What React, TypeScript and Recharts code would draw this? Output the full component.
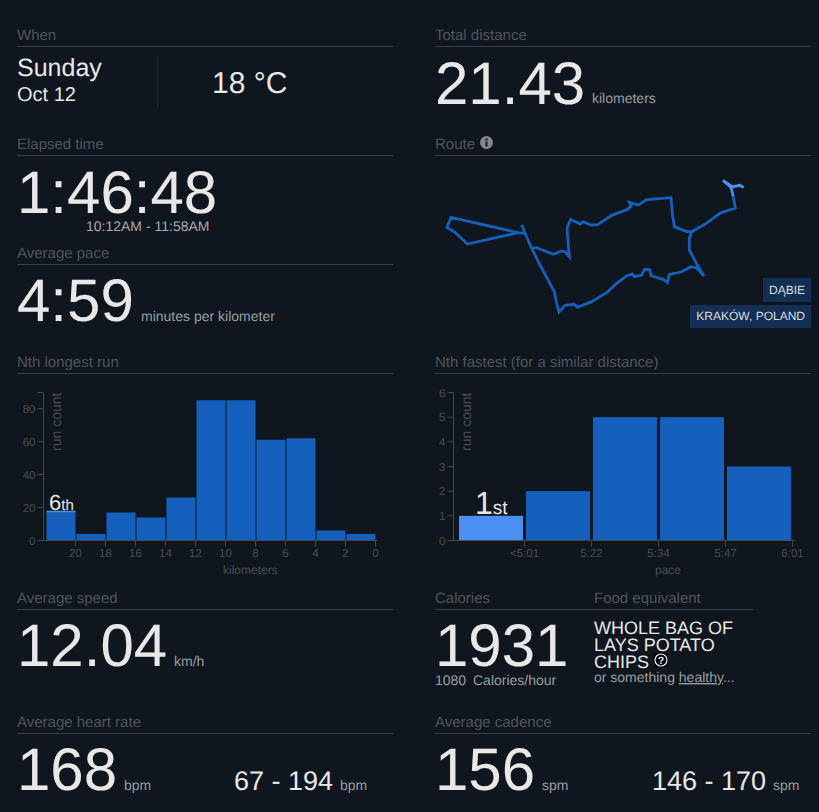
import React from 'react';
import { BarChart, Bar, LineChart, Line, XAxis, YAxis } from 'recharts';

const BG = '#0f161e';
const DARK_BLUE = '#1560bd';
const LIGHT_BLUE = '#4a90f0';
const AXIS = '#44474c';
const AXIS_TEXT = '#4a4d52';

// Nth longest run histogram: bin middles in km, bin width 2 km
const distanceBins = [21, 19, 17, 15, 13, 11, 9, 7, 5, 3, 1];
const distanceCounts = [17, 4, 17, 14, 26, 85, 85, 61, 62, 6, 4];
const distanceMarked = [1, 0, 0, 0, 0, 0, 0, 0, 0, 0, 0];
const distanceTicks = [20, 18, 16, 14, 12, 10, 8, 6, 4, 2, 0];
const distanceCountTicks = [0, 20, 40, 60, 80, 89.7];

// Nth fastest histogram
const paceBins = [0.5, 1.5, 2.5, 3.5, 4.5];
const paceCounts = [0, 2, 5, 5, 3];
const paceMarked = [1, 0, 0, 0, 0];
const paceTicks = [1, 2, 3, 4, 5];
const paceTickLabels = ['<5:01', '5:22', '5:34', '5:47', '6:01'];
const paceCountTicks = [0, 1, 2, 3, 4, 5, 6];

// route, in map units
const routeStartEast = [956, 945, 922, 894, 918, 925];
const routeStartSouth = [173, 166, 170, 151, 172, 200];
const routeEast = [
  925, 931, 886, 840, 800, 793, 793, 815, 837, 815, 798, 768, 733, 727, 718, 678, 674, 658, 650, 628, 622, 606, 575,
  545, 500, 458, 448, 420, 402, 395, 388, 345, 320, 300, 290, 300, 280, 78, 66, 90, 127, 280, 300, 320, 335, 385, 410,
  420, 433, 430, 426, 437, 465, 475, 497, 518, 560, 608, 618, 613, 640, 665, 738, 742, 748, 785, 800,
];
const routeSouth = [
  200, 234, 249, 283, 305, 325, 360, 402, 438, 414, 410, 426, 433, 458, 450, 437, 419, 418, 435, 440, 432, 437, 460,
  488, 515, 532, 523, 526, 546, 520, 485, 405, 355, 310, 284, 310, 308, 262, 292, 307, 342, 308, 310, 355, 353, 373,
  363, 365, 380, 345, 295, 268, 282, 275, 285, 284, 256, 238, 228, 217, 225, 209, 203, 250, 290, 305, 305,
];

const distanceData = distanceBins.map((km, i) => ({ km, count: distanceCounts[i], marked: distanceMarked[i] }));
const paceData = paceBins.map((bin, i) => ({ bin, count: paceCounts[i], marked: paceMarked[i] }));
const routeStartData = routeStartEast.map((east, i) => ({ east, south: routeStartSouth[i] }));
const routeData = routeEast.map((east, i) => ({ east, south: routeSouth[i] }));

const sans = '"Liberation Sans", Arial, sans-serif';
const Small = '#9a9da1';
const Title = '#50545a';

function T({
  x,
  y,
  size,
  color = '#e8e8e8',
  children,
}: {
  x: number;
  y: number;
  size: number;
  color?: string;
  children: React.ReactNode;
}) {
  // y is the text baseline
  return (
    <svg style={{ position: 'absolute', left: 0, top: 0, overflow: 'visible' }} width={1} height={1}>
      <text x={x} y={y} fontSize={size} fill={color} fontFamily={sans}>
        {children}
      </text>
    </svg>
  );
}

function Heading({ x, y, width, title }: { x: number; y: number; width: number; title: string }) {
  return (
    <>
      <T x={x} y={y - 6} size={15} color={Title}>
        {title}
      </T>
      <div style={{ position: 'absolute', left: x, top: y, width, height: 1, background: '#3a3d42' }} />
    </>
  );
}

function runCountLabel(props: any) {
  const { viewBox } = props;
  // baseline sits just right of the axis line, text runs down from the top tick
  const x = viewBox.x + viewBox.width + 17.5;
  const y = viewBox.y;
  return (
    <text
      x={x}
      y={y}
      transform={`rotate(-90 ${x} ${y})`}
      textAnchor="end"
      fontSize={14}
      fill={AXIS_TEXT}
      fontFamily={sans}
    >
      run count
    </text>
  );
}

// recharts truncates the bar offset, this puts the pace bars back on whole pixels
function PaceBar(props: any) {
  const { x, y, width, height, fill } = props;
  return <rect x={x + 0.5} y={y} width={width} height={height} fill={fill} />;
}

function Histogram({
  left,
  data,
  dataKey,
  domain,
  ticks,
  formatX,
  reversed,
  yDomain,
  yTicks,
  formatY,
  barSize,
  barShape,
  title,
  width,
  titleX,
}: any) {
  const axisProps = {
    stroke: AXIS,
    tickLine: { stroke: AXIS },
    tickSize: 6,
    interval: 0 as const,
    tick: { fill: AXIS_TEXT, fontSize: 11.5, fontFamily: sans },
  };
  return (
    <div style={{ position: 'absolute', left, top: 380 }}>
      <BarChart width={width} height={200} data={data} margin={{ top: 12.5, right: 20, bottom: 9.5, left: 13.5 }}>
        <XAxis
          {...axisProps}
          type="number"
          dataKey={dataKey}
          domain={domain}
          allowDataOverflow
          ticks={ticks}
          reversed={reversed}
          tickFormatter={formatX}
          height={30}
          tickMargin={2}
        />
        <YAxis
          {...axisProps}
          type="number"
          domain={yDomain}
          ticks={yTicks}
          tickFormatter={formatY}
          width={30}
          tickMargin={2}
          allowDataOverflow
          label={runCountLabel}
        />
        <Bar
          dataKey="count"
          stackId="a"
          fill={DARK_BLUE}
          barSize={barSize}
          shape={barShape}
          isAnimationActive={false}
        />
        <Bar
          dataKey="marked"
          stackId="a"
          fill={LIGHT_BLUE}
          barSize={barSize}
          shape={barShape}
          isAnimationActive={false}
        />
      </BarChart>
      <T x={titleX} y={194} size={12} color={AXIS_TEXT}>
        {title}
      </T>
    </div>
  );
}

function Route() {
  return (
    <div style={{ position: 'absolute', left: 425, top: 130 }}>
      <LineChart width={394} height={205} margin={{ top: 0, right: 0, bottom: 0, left: 0 }}>
        <XAxis type="number" dataKey="east" domain={[0, 1182]} hide allowDataOverflow />
        <YAxis type="number" dataKey="south" domain={[0, 615]} reversed hide allowDataOverflow />
        <Line
          data={routeData}
          dataKey="south"
          type="linear"
          stroke={DARK_BLUE}
          strokeWidth={2.8}
          dot={false}
          isAnimationActive={false}
        />
        <Line
          data={routeStartData}
          dataKey="south"
          type="linear"
          stroke={LIGHT_BLUE}
          strokeWidth={2.8}
          dot={false}
          isAnimationActive={false}
        />
      </LineChart>
    </div>
  );
}

function Badge({ right, top, height, children }: { right: number; top: number; height: number; children: string }) {
  return (
    <div
      style={{
        position: 'absolute',
        right,
        top,
        height,
        lineHeight: `${height}px`,
        padding: '0 6px',
        background: '#142f55',
        color: '#dcdcdc',
        fontSize: 12,
        whiteSpace: 'nowrap',
      }}
    >
      {children}
    </div>
  );
}

export default function App() {
  return (
    <div
      style={{
        position: 'absolute',
        left: 0,
        top: 0,
        width: 819,
        height: 812,
        overflow: 'hidden',
        background: BG,
        fontFamily: sans,
        textRendering: 'geometricPrecision',
      }}
    >
      <style>{`html,body{margin:0;background:${BG}}`}</style>

      <Heading x={17} y={46} width={376} title="When" />
      <T x={17} y={76} size={25}>
        Sunday
      </T>
      <T x={17} y={101} size={20}>
        Oct 12
      </T>
      <div style={{ position: 'absolute', left: 157, top: 56, width: 1, height: 51, background: '#24282e' }} />
      <T x={212} y={93} size={30}>
        18 °C
      </T>

      <Heading x={435} y={46} width={376} title="Total distance" />
      <T x={435} y={104} size={60}>
        21.43
      </T>
      <T x={592} y={103} size={14} color={Small}>
        kilometers
      </T>

      <Heading x={17} y={155} width={376} title="Elapsed time" />
      <T x={17} y={213} size={60}>
        1:46:48
      </T>
      <T x={86} y={231} size={14} color="#a8a9ac">
        10:12AM - 11:58AM
      </T>

      <Heading x={435} y={155} width={376} title="Route" />
      <svg style={{ position: 'absolute', left: 480, top: 136 }} width={13} height={13} viewBox="0 0 13 13">
        <circle cx={6.5} cy={6.5} r={6.5} fill="#85888c" />
        <rect x={5.5} y={5.5} width={2} height={5} fill={BG} />
        <rect x={5.5} y={2.5} width={2} height={2} fill={BG} />
      </svg>
      <Route />
      <Badge right={8} top={278} height={24}>
        DĄBIE
      </Badge>
      <Badge right={8} top={305} height={23}>
        KRAKÓW, POLAND
      </Badge>

      <Heading x={17} y={264} width={376} title="Average pace" />
      <T x={17} y={321} size={60}>
        4:59
      </T>
      <T x={141} y={321} size={14} color={Small}>
        minutes per kilometer
      </T>

      <Heading x={17} y={373} width={376} title="Nth longest run" />
      <Histogram
        left={0}
        width={397.5}
        data={distanceData}
        dataKey="km"
        domain={[-0.133, 22.133]}
        ticks={distanceTicks}
        reversed
        formatX={(v: number) => `${v}`}
        yDomain={[0, 89.7]}
        yTicks={distanceCountTicks}
        formatY={(v: number) => (v > 80 ? '' : `${v}`)}
        barSize={29}
        title="kilometers"
        titleX={223}
      />
      <T x={49} y={510} size={22}>
        6<tspan fontSize={15}>th</tspan>
      </T>

      <Heading x={435} y={373} width={376} title="Nth fastest (for a similar distance)" />
      <Histogram
        left={410}
        width={405.5}
        data={paceData}
        dataKey="bin"
        domain={[-0.0597, 5.0448]}
        ticks={paceTicks}
        formatX={(v: number) => paceTickLabels[v - 1]}
        yDomain={[0, 6]}
        yTicks={paceCountTicks}
        formatY={(v: number) => `${v}`}
        barSize={64}
        barShape={PaceBar}
        title="pace"
        titleX={245}
      />
      <T x={475} y={514} size={32}>
        1<tspan fontSize={19}>st</tspan>
      </T>

      <Heading x={17} y={609} width={376} title="Average speed" />
      <T x={17} y={666} size={60}>
        12.04
      </T>
      <T x={174} y={666} size={14} color={Small}>
        km/h
      </T>

      <Heading x={435} y={609} width={318} title="Calories" />
      <T x={594} y={603} size={15} color={Title}>
        Food equivalent
      </T>
      <T x={435} y={666} size={60}>
        1931
      </T>
      <T x={435} y={685} size={14} color={Small}>
        1080
      </T>
      <T x={473} y={685} size={14} color={Small}>
        Calories/hour
      </T>
      <T x={594} y={634} size={18}>
        WHOLE BAG OF
      </T>
      <T x={594} y={651} size={18}>
        LAYS POTATO
      </T>
      <T x={594} y={668} size={18}>
        CHIPS
      </T>
      <svg style={{ position: 'absolute', left: 654, top: 653 }} width={14} height={14} viewBox="0 0 14 14">
        <rect width={14} height={14} fill="#000" />
        <circle cx={7} cy={7} r={6} fill="none" stroke="#eee" strokeWidth={1.2} />
        <text x={7} y={10.8} textAnchor="middle" fontSize={10.5} fontWeight={700} fill="#eee" fontFamily={sans}>
          ?
        </text>
      </svg>
      <T x={594} y={682} size={14} color={Small}>
        or something <tspan textDecoration="underline">healthy</tspan>...
      </T>

      <Heading x={17} y={733} width={376} title="Average heart rate" />
      <T x={17} y={790} size={60}>
        168
      </T>
      <T x={124} y={790} size={14} color={Small}>
        bpm
      </T>
      <T x={234} y={790} size={27}>
        67 - 194
      </T>
      <T x={340} y={790} size={14} color={Small}>
        bpm
      </T>

      <Heading x={435} y={733} width={376} title="Average cadence" />
      <T x={435} y={790} size={60}>
        156
      </T>
      <T x={542} y={790} size={14} color={Small}>
        spm
      </T>
      <T x={652} y={790} size={27}>
        146 - 170
      </T>
      <T x={773} y={790} size={14} color={Small}>
        spm
      </T>
    </div>
  );
}
